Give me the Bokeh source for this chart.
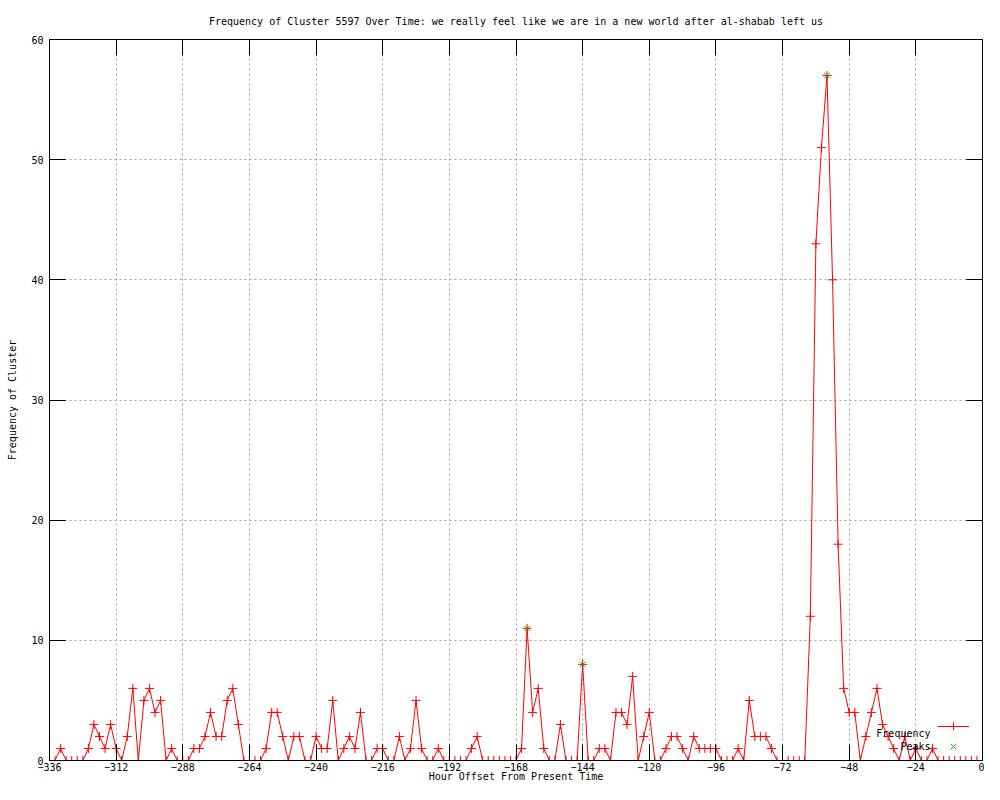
from bokeh.plotting import figure
from bokeh.models import Range1d, FixedTicker, LinearAxis, Legend, LegendItem, Label
from bokeh.embed import file_html
from bokeh.resources import INLINE

# ---- data ----
hours = list(range(-336, 1, 2))
frequency = [
    0, 0, 1, 0, 0, 0, 0, 1, 3, 2,      # -336 .. -318
    1, 3, 1, 0, 2, 6, 0, 5, 6, 4,      # -316 .. -298
    5, 0, 1, 0, 0, 0, 1, 1, 2, 4,      # -296 .. -278
    2, 2, 5, 6, 3, 0, 0, 0, 0, 1,      # -276 .. -258
    4, 4, 2, 0, 2, 2, 0, 0, 2, 1,      # -256 .. -238
    1, 5, 0, 1, 2, 1, 4, 0, 0, 1,      # -236 .. -218
    1, 0, 0, 2, 0, 1, 5, 1, 0, 0,      # -216 .. -198
    1, 0, 0, 0, 0, 0, 1, 2, 0, 0,      # -196 .. -178
    0, 0, 0, 0, 0, 1, 11, 4, 6, 1,     # -176 .. -158
    0, 0, 3, 0, 0, 0, 8, 0, 0, 1,      # -156 .. -138
    1, 0, 4, 4, 3, 7, 0, 2, 4, 0,      # -136 .. -118
    0, 1, 2, 2, 1, 0, 2, 1, 1, 1,      # -116 .. -98
    1, 0, 0, 0, 1, 0, 5, 2, 2, 2,      # -96 .. -78
    1, 0, 0, 0, 0, 0, 0, 12, 43, 51,   # -76 .. -58
    57, 40, 18, 6, 4, 4, 0, 2, 4, 6,   # -56 .. -38
    3, 2, 1, 0, 2, 0, 1, 0, 0, 1,      # -36 .. -18
    0, 0, 0, 0, 0, 0, 0, 0, 0,         # -16 .. 0
]
assert len(hours) == len(frequency)
peak_hours = [-164, -144, -56]
peak_values = [11, 8, 57]
x_ticks = [-336, -312, -288, -264, -240, -216, -192, -168, -144, -120, -96, -72, -48, -24, 0]
y_ticks = [0, 10, 20, 30, 40, 50, 60]

FONT = "DejaVu Sans Mono"
FS = "10px"

p = figure(width=984, height=784, output_backend="svg", toolbar_location=None,
           x_range=Range1d(-336, 0), y_range=Range1d(0, 60),
           min_border_left=49, min_border_right=2, min_border_top=39, min_border_bottom=24,
           title="Frequency of Cluster 5597 Over Time: we really feel like we are in a new world after al-shabab left us")
p.background_fill_color = "white"
p.border_fill_color = "white"
p.outline_line_color = "black"
p.outline_line_width = 1

p.title.align = "center"
p.title.text_font = FONT
p.title.text_font_size = FS
p.title.text_font_style = "normal"
p.title.text_color = "black"
p.title.standoff = 26

p.xaxis.ticker = FixedTicker(ticks=x_ticks)
p.yaxis.ticker = FixedTicker(ticks=y_ticks)
p.xaxis.axis_label = "Hour Offset From Present Time"
p.yaxis.axis_label = "Frequency of Cluster"
p.xaxis.major_label_standoff = 2
p.xaxis.axis_label_standoff = -3
p.yaxis.major_label_standoff = 6
p.yaxis.axis_label_standoff = 10

for ax in list(p.xaxis) + list(p.yaxis):
    ax.major_tick_in = 16
    ax.major_tick_out = 0
    ax.minor_tick_line_color = None
    ax.axis_line_color = "black"
    ax.major_tick_line_color = "black"
    ax.major_label_text_font = FONT
    ax.major_label_text_font_size = FS
    ax.major_label_text_color = "black"
    ax.axis_label_text_font = FONT
    ax.axis_label_text_font_size = FS
    ax.axis_label_text_font_style = "normal"
    ax.axis_label_text_color = "black"

# mirrored tick marks on the top and right borders (no labels)
top_axis = LinearAxis(ticker=FixedTicker(ticks=[], minor_ticks=x_ticks))
right_axis = LinearAxis(ticker=FixedTicker(ticks=[], minor_ticks=y_ticks))
for ax in (top_axis, right_axis):
    ax.minor_tick_in = 16
    ax.minor_tick_out = 0
    ax.minor_tick_line_color = "black"
    ax.major_tick_line_color = None
    ax.axis_line_color = "black"
    ax.major_label_standoff = 0
p.add_layout(top_axis, "above")
p.add_layout(right_axis, "right")

p.xgrid.ticker = FixedTicker(ticks=x_ticks)
p.ygrid.ticker = FixedTicker(ticks=y_ticks)
for g in (p.xgrid, p.ygrid):
    g.grid_line_color = "#a0a0a0"
    g.grid_line_dash = "2 3"
    g.grid_line_width = 1

r_line = p.line(hours, frequency, line_color="#ff0000", line_width=1)
r_pts = p.scatter(hours, frequency, marker="cross", size=9, line_color="#ff0000", line_width=1)
r_peaks = p.scatter(peak_hours, peak_values, marker="x", size=8, line_color="#00c000", line_width=1)

# gnuplot-style key: text right-aligned, sample to its right
legend = Legend(items=[LegendItem(label="", renderers=[r_line, r_pts]),
                       LegendItem(label="", renderers=[r_peaks])],
                location=(888, 4), glyph_width=32, glyph_height=20, label_height=13,
                label_width=0, padding=0, margin=0, spacing=-7, label_standoff=0,
                background_fill_alpha=0, border_line_alpha=0,
                label_text_font=FONT, label_text_font_size=FS)
p.add_layout(legend)

p.add_layout(Label(x=881, y=27, x_units="screen", y_units="screen", text="Frequency",
                   text_align="right", text_baseline="middle", text_font=FONT,
                   text_font_size=FS, text_color="black"))
p.add_layout(Label(x=881, y=14, x_units="screen", y_units="screen", text="Peaks",
                   text_align="right", text_baseline="middle", text_font=FONT,
                   text_font_size=FS, text_color="black"))

open("out.html", "w").write(file_html(p, INLINE))
